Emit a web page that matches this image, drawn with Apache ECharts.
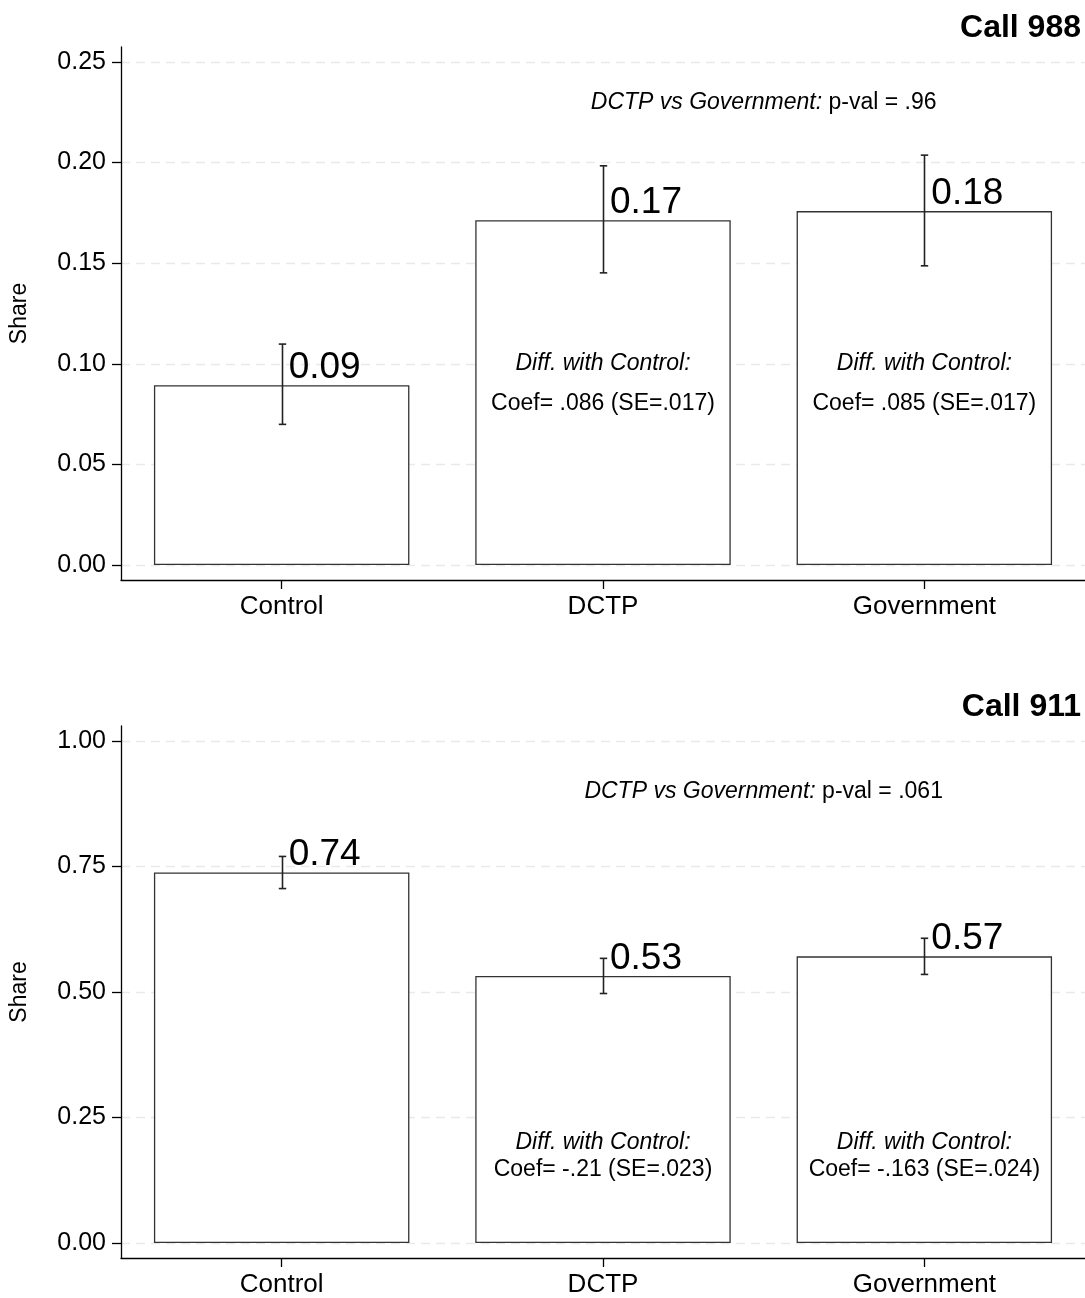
<!DOCTYPE html>
<html>
<head>
<meta charset="utf-8">
<script src="https://cdn.jsdelivr.net/npm/echarts@6/dist/echarts.min.js"></script>
<style>
  html, body { margin: 0; padding: 0; background: #fff; }
  #chart { width: 1085px; height: 1298px; }
</style>
</head>
<body>
<div id="chart"></div>
<script>
// Treatment arms
const categories = ['Control', 'DCTP', 'Government'];

// Call 988: share of respondents, with 95% interval bounds
const share988 = [0.0894, 0.1714, 0.1759];
const ciLow988 = [0.0699, 0.1452, 0.1487];
const ciHigh988 = [0.1098, 0.1984, 0.2037];

// Call 911: share of respondents, with 95% interval bounds
const share911 = [0.738, 0.532, 0.571];
const ciLow911 = [0.706, 0.497, 0.535];
const ciHigh911 = [0.770, 0.567, 0.607];

// Y-axis tick values
const ticks988 = [0, 0.05, 0.10, 0.15, 0.20, 0.25];
const ticks911 = [0, 0.25, 0.50, 0.75, 1.00];

// Regression notes
const coefNotes988 = ['', 'Coef= .086 (SE=.017)', 'Coef= .085 (SE=.017)'];
const coefNotes911 = ['', 'Coef= -.21 (SE=.023)', 'Coef= -.163 (SE=.024)'];
const pval988 = '.96';
const pval911 = '.061';

const FONT = "'Liberation Sans', Arial, Helvetica, sans-serif";
const INK = '#000';

function yAxisFor(gridIndex, ticks) {
  const top = ticks[ticks.length - 1];
  const pad = top * 0.0298;
  return {
    type: 'value',
    gridIndex: gridIndex,
    min: -pad,
    max: top + pad,
    name: 'Share',
    nameLocation: 'middle',
    nameGap: 90,
    nameTextStyle: { fontFamily: FONT, fontSize: 23, color: INK },
    axisLine: { show: true, onZero: false, lineStyle: { color: INK, width: 1.3 } },
    axisTick: { show: true, length: 9, customValues: ticks, lineStyle: { color: INK, width: 1.3 } },
    axisLabel: {
      customValues: ticks, margin: 15, fontFamily: FONT, fontSize: 25, color: INK,
      formatter: v => v.toFixed(2)
    },
    splitLine: { show: true, lineStyle: { color: '#e9e9e9', width: 1.3, type: [9, 6] } }
  };
}

function xAxisFor(gridIndex) {
  return {
    type: 'category',
    gridIndex: gridIndex,
    data: categories,
    axisLine: { show: true, onZero: false, lineStyle: { color: INK, width: 1.3 } },
    axisTick: { show: true, alignWithLabel: true, length: 9, lineStyle: { color: INK, width: 1.3 } },
    axisLabel: { margin: 14, fontFamily: FONT, fontSize: 26, color: INK },
    splitLine: { show: false }
  };
}

function barSeries(idx, values) {
  return {
    type: 'bar',
    xAxisIndex: idx, yAxisIndex: idx,
    data: values,
    barWidth: '79.5%',
    itemStyle: { color: '#fff', borderColor: '#333', borderWidth: 1.3 },
    label: {
      show: true,
      position: ['50%', 0],
      offset: [7, 1],
      align: 'left',
      verticalAlign: 'bottom',
      fontFamily: FONT, fontSize: 37, color: INK,
      formatter: p => p.value.toFixed(2)
    },
    silent: true,
    z: 2
  };
}

function errorSeries(idx, lows, highs) {
  return {
    type: 'custom',
    xAxisIndex: idx, yAxisIndex: idx,
    data: categories.map((c, i) => [i, lows[i], highs[i]]),
    encode: { x: 0, y: [1, 2] },
    z: 3,
    silent: true,
    renderItem: function (params, api) {
      const i = api.value(0);
      const lo = api.coord([i, api.value(1)]);
      const hi = api.coord([i, api.value(2)]);
      const x = Math.round(lo[0]) + 0.5;
      const w = 3.7;
      const st = { stroke: '#222', lineWidth: 1.6 };
      return {
        type: 'group',
        children: [
          { type: 'line', shape: { x1: x, y1: lo[1], x2: x, y2: hi[1] }, style: st },
          { type: 'line', shape: { x1: x - w, y1: hi[1], x2: x + w, y2: hi[1] }, style: st },
          { type: 'line', shape: { x1: x - w, y1: lo[1], x2: x + w, y2: lo[1] }, style: st }
        ]
      };
    }
  };
}

function textEl(text, x, y, italic) {
  return {
    type: 'text',
    style: {
      text: text, x: x, y: y,
      font: (italic ? 'italic ' : '') + '23px ' + FONT,
      fill: INK,
      align: 'center', verticalAlign: 'middle',
      textAlign: 'center', textVerticalAlign: 'middle'
    }
  };
}

// Notes inside the treatment bars, plus the DCTP vs Government comparison
function noteSeries(idx, notes, headY, coefY, pval, pvalY) {
  return {
    type: 'custom',
    xAxisIndex: idx, yAxisIndex: idx,
    data: [[1], [2]],
    z: 4,
    silent: true,
    renderItem: function (params, api) {
      const i = api.value(0);
      const a = api.coord([i, headY]);
      const b = api.coord([i, coefY]);
      const children = [
        textEl('Diff. with Control:', a[0], a[1], true),
        textEl(notes[i], b[0], b[1], false)
      ];
      if (i === 1) {
        const p1 = api.coord([1, pvalY]);
        const p2 = api.coord([2, pvalY]);
        children.push({
          type: 'text',
          style: {
            text: '{i|DCTP vs Government:}{n| p-val = ' + pval + '}',
            x: (p1[0] + p2[0]) / 2, y: p1[1],
            fill: INK,
            font: '23px ' + FONT,
            align: 'center', verticalAlign: 'middle',
            textAlign: 'center', textVerticalAlign: 'middle',
            rich: {
              i: { fontStyle: 'italic', fontSize: 23, fontFamily: FONT, fill: INK, color: INK },
              n: { fontSize: 23, fontFamily: FONT, fill: INK, color: INK }
            }
          }
        });
      }
      return { type: 'group', children: children };
    }
  };
}

const chart = echarts.init(document.getElementById('chart'), null, { renderer: 'canvas' });

chart.setOption({
  backgroundColor: '#fff',
  animation: false,
  title: [
    { text: 'Call 988', right: -1, top: 7, textStyle: { fontFamily: FONT, fontSize: 32, fontWeight: 'bold', color: INK } },
    { text: 'Call 911', right: -1, top: 686, textStyle: { fontFamily: FONT, fontSize: 32, fontWeight: 'bold', color: INK } }
  ],
  grid: [
    { left: 120, top: 47, width: 966, height: 533 },
    { left: 120, top: 726, width: 966, height: 534 }
  ],
  xAxis: [xAxisFor(0), xAxisFor(1)],
  yAxis: [yAxisFor(0, ticks988), yAxisFor(1, ticks911)],
  series: [
    barSeries(0, share988),
    errorSeries(0, ciLow988, ciHigh988),
    noteSeries(0, coefNotes988, 0.10, 0.08, pval988, 0.23),
    barSeries(1, share911),
    errorSeries(1, ciLow911, ciHigh911),
    noteSeries(1, coefNotes911, 0.20, 0.147, pval911, 0.90)
  ]
});
</script>
</body>
</html>
